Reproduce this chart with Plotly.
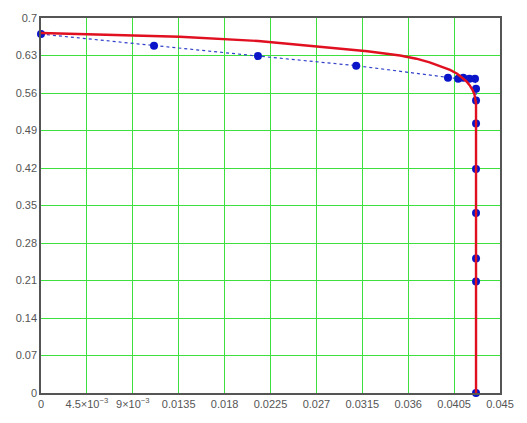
import plotly.graph_objects as go

# Measured points (blue markers, joined by a dotted line)
meas_x = [0.0, 0.01108, 0.02127, 0.0309, 0.0399, 0.0409, 0.0414, 0.0420, 0.04255,
          0.04265, 0.04265, 0.04265, 0.04265, 0.04265, 0.04265, 0.04265, 0.04265]
meas_y = [0.670, 0.648, 0.629, 0.611, 0.5886, 0.5867, 0.5886, 0.5867, 0.5867,
          0.568, 0.546, 0.503, 0.418, 0.336, 0.251, 0.208, 0.0]

# Model curve (red)
model_x = [0.0, 0.0058, 0.0136, 0.0213, 0.0273, 0.0320, 0.0352, 0.0368, 0.0381,
           0.0392, 0.0401, 0.0408, 0.0413, 0.0417, 0.0420, 0.0423, 0.0425,
           0.04262, 0.04265, 0.04265]
model_y = [0.672, 0.669, 0.665, 0.657, 0.647, 0.638, 0.630, 0.624, 0.617,
           0.610, 0.603, 0.596, 0.589, 0.582, 0.575, 0.566, 0.557,
           0.548, 0.54, 0.0]

x_ticks = [0, 0.0045, 0.009, 0.0135, 0.018, 0.0225, 0.027, 0.0315, 0.036, 0.0405, 0.045]
x_labels = ["0", "4.5×10<sup>−3</sup>", "9×10<sup>−3</sup>", "0.0135", "0.018", "0.0225",
            "0.027", "0.0315", "0.036", "0.0405", "0.045"]
y_ticks = [0, 0.07, 0.14, 0.21, 0.28, 0.35, 0.42, 0.49, 0.56, 0.63, 0.7]
y_labels = ["0", "0.07", "0.14", "0.21", "0.28", "0.35", "0.42", "0.49", "0.56", "0.63", "0.7"]

fig = go.Figure()
fig.add_trace(go.Scatter(
    x=meas_x, y=meas_y, mode="lines+markers",
    line=dict(color="#3040c8", width=1.2, dash="dot"),
    marker=dict(color="#0a14c8", size=8),
    cliponaxis=False, showlegend=False,
))
fig.add_trace(go.Scatter(
    x=model_x, y=model_y, mode="lines",
    line=dict(color="#e01020", width=2.4),
    cliponaxis=False, showlegend=False,
))

axis_common = dict(
    showgrid=True, gridcolor="#3ee03e", gridwidth=1,
    showline=True, linecolor="#555555", linewidth=1.5, mirror=True,
    zeroline=False, ticks="", tickfont=dict(family="Liberation Sans", size=11, color="#555555"),
)
fig.update_xaxes(range=[0, 0.045], tickvals=x_ticks, ticktext=x_labels, **axis_common)
fig.update_yaxes(range=[0, 0.7], tickvals=y_ticks, ticktext=y_labels, **axis_common)

fig.update_layout(
    width=527, height=423,
    margin=dict(l=41, r=27, t=16, b=30),
    plot_bgcolor="white", paper_bgcolor="white",
)
fig.write_html("out.html")
